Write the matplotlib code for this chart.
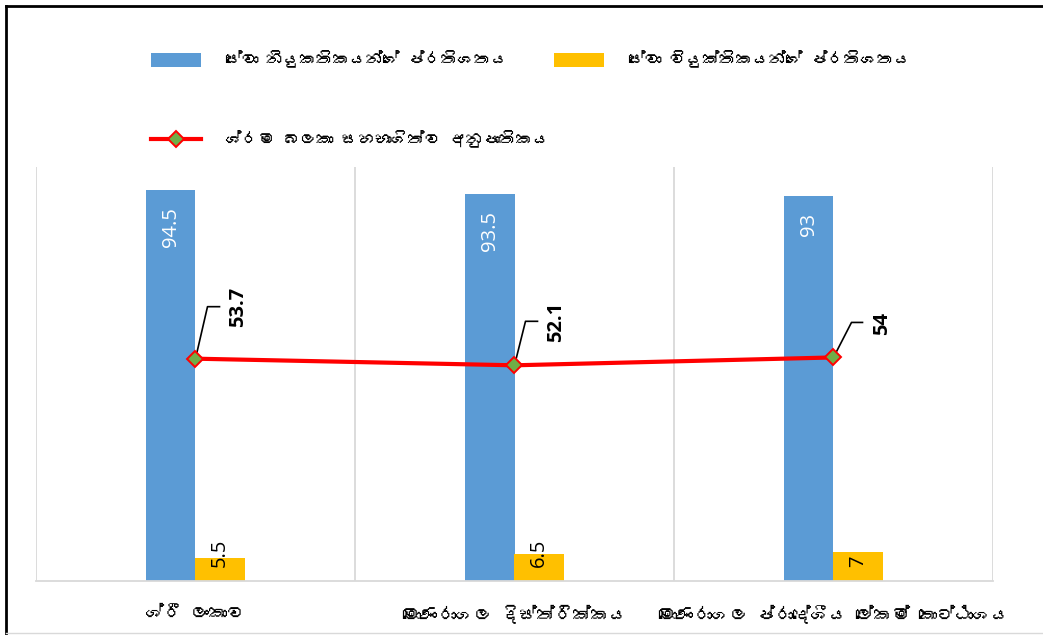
import matplotlib
matplotlib.use("Agg")
import matplotlib.pyplot as plt
from matplotlib import font_manager
from matplotlib.ft2font import FT2Font
from matplotlib.transforms import ScaledTranslation, IdentityTransform
from matplotlib.lines import Line2D
from matplotlib.patches import Patch

# ---------------- data ----------------
categories = ["ශ්රී ලංකාව", "මොණරාගල දිස්ත්රික්කය", "මොණරාගල ප්රාදේශීය ලේකම් කොට්ඨාශය"]
employed_pct = [94.5, 93.5, 93]
unemployed_pct = [5.5, 6.5, 7]
participation_rate = [53.7, 52.1, 54]
series_names = ["සේවා නියුකතිකයන්ගේ ප්රතිශතය",
                "සේවා වියුක්තිකයන්ගේ ප්රතිශතය",
                "ශ්රම බලකා සහභාගිත්ව අනුපාතිකය"]
employed_labels = ["94.5", "93.5", "93"]
unemployed_labels = ["5.5", "6.5", "7"]
rate_labels = ["53.7", "52.1", "54"]

# ---------------- layout (pixel offsets for line-label leaders) ----------------
leader_knee = [(12, 52), (11, 44), (18, 35)]
leader_end = [(24, 52), (23, 44), (29, 35)]
label_pos = [(43, 52), (42, 43), (49, 34)]

# ---------------- fonts ----------------
def find_sinhala_font():
    for f in font_manager.fontManager.ttflist:
        try:
            cmap = FT2Font(f.fname).get_charmap()
            if 0x0DC3 in cmap and 0x0DCF in cmap:
                return f.name
        except Exception:
            pass
    return None

sin_font = find_sinhala_font()
sin_family = [sin_font, "DejaVu Sans"] if sin_font else ["DejaVu Sans"]
num_font = "Open Sans"

BLUE = "#5B9BD5"
ORANGE = "#FFC000"
GRID = "#D9D9D9"

W, H = 1043, 635
fig = plt.figure(figsize=(W / 100, H / 100), dpi=100)
ax = fig.add_axes([36 / W, 1 - 581 / H, (993 - 36) / W, (581 - 167) / H])

x = list(range(len(categories)))
bw = 0.155
ax.bar([i - bw / 2 for i in x], employed_pct, width=bw, color=BLUE, zorder=2)
ax.bar([i + bw / 2 for i in x], unemployed_pct, width=bw, color=ORANGE, zorder=2)
ax.plot(x, participation_rate, color="#FF0000", lw=3.0, marker="D", ms=8,
        mfc="#70AD47", mec="#FF0000", mew=1.4, zorder=4, solid_capstyle="round")

ax.set_xlim(-0.5, len(categories) - 0.5)
ax.set_ylim(0, 100)
for s in ["left", "right", "top"]:
    ax.spines[s].set_visible(False)
ax.spines["bottom"].set_color(GRID)
ax.spines["bottom"].set_linewidth(1.3)
ax.set_yticks([])
ax.set_xticks(x)
ax.set_xticklabels(categories, family=sin_family, fontsize=13)
ax.tick_params(axis="x", length=0, pad=17)
ax.set_xticks([i - 0.5 for i in range(len(categories) + 1)], minor=True)
ax.tick_params(axis="x", which="minor", length=0)
ax.grid(which="minor", axis="x", color=GRID, lw=1.3, zorder=0)
ax.set_axisbelow(True)

# bar labels
for i in x:
    t = ax.transData + ScaledTranslation(0, -17 / 100, fig.dpi_scale_trans)
    ax.text(i - bw / 2, employed_pct[i], employed_labels[i], transform=t, rotation=90,
            ha="center", va="top", color="white", fontsize=14.5, family=num_font, zorder=5)
    t2 = ax.transData + ScaledTranslation(0, 14 / 100, fig.dpi_scale_trans)
    ax.text(i + bw / 2, 0, unemployed_labels[i], transform=t2, rotation=90,
            ha="center", va="bottom", color="black", fontsize=14.5, family=num_font, zorder=5)

# line labels with leaders
for i in x:
    off = ScaledTranslation(x[i], participation_rate[i], ax.transData)
    tr = IdentityTransform() + off
    kx, ky = leader_knee[i]
    ex, ey = leader_end[i]
    ax.add_line(Line2D([0, kx, ex], [0, ky, ey], transform=tr, color="black", lw=1.2, zorder=3))
    lx, ly = label_pos[i]
    ax.text(lx, ly, rate_labels[i], transform=tr, rotation=90, ha="center", va="center",
            fontsize=14.5, fontweight="bold", family=num_font, color="black", zorder=5)

# legend
handles = [Patch(facecolor=BLUE, edgecolor="none"),
           Line2D([], [], color="#FF0000", lw=3.0, marker="D", ms=8, mfc="#70AD47", mec="#FF0000", mew=1.4),
           Patch(facecolor=ORANGE, edgecolor="none")]
labels = [series_names[0], series_names[2], series_names[1]]
fig.legend(handles, labels, ncol=2, loc="upper left", bbox_to_anchor=(144 / W, 1 - 44 / H),
           frameon=False, prop={"family": sin_family, "size": 12},
           handlelength=3.0, handleheight=0.85, handletextpad=1.45, labelspacing=3.7,
           columnspacing=0.3, borderaxespad=0)

# outer frame
fig.add_artist(Line2D([6 / W, 6 / W], [0, 1 - 6 / H], color="black", lw=2, transform=fig.transFigure))
fig.add_artist(Line2D([6 / W, 1], [1 - 6 / H, 1 - 6 / H], color="black", lw=2, transform=fig.transFigure))
fig.add_artist(Line2D([6 / W, 1], [1 - 633 / H, 1 - 633 / H], color=GRID, lw=1, transform=fig.transFigure))

fig.savefig("out.png", dpi=100)
